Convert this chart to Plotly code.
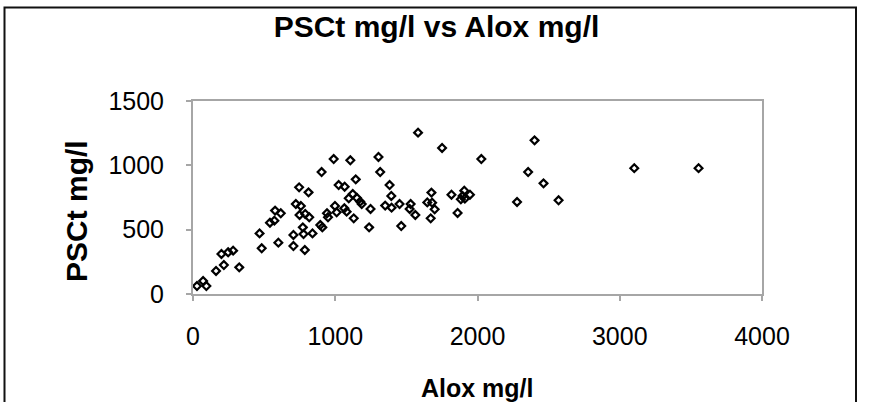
import plotly.graph_objects as go

# Data (Alox mg/l vs PSCt mg/l)
alox = [28, 71, 94, 162, 217, 200, 247, 282, 325, 468, 483, 541, 572, 577, 617, 600,
        706, 706, 723, 746, 758, 749, 772, 789, 817, 812, 777, 786, 840, 895, 909, 904,
        942, 949, 989, 998, 1010, 1024, 1066, 1064, 1080, 1095, 1106, 1123, 1130, 1144,
        1153, 1175, 1186, 1248, 1238, 1304, 1316, 1382, 1394, 1351, 1396, 1452, 1464,
        1582, 1751, 2027, 2401, 2356, 2464, 2570, 2278, 1530, 1523, 1563, 1647, 1676,
        1681, 1699, 1671, 1817, 1860, 1907, 1883, 1911, 1947, 1895, 3102, 3554]
psct = [62, 101, 62, 179, 225, 311, 324, 337, 207, 471, 355, 554, 570, 648, 627, 399,
        373, 459, 699, 829, 684, 614, 518, 622, 596, 790, 466, 342, 471, 536, 518, 948,
        627, 596, 1049, 684, 635, 847, 834, 666, 640, 744, 1039, 777, 588, 891,
        746, 718, 699, 661, 518, 1065, 948, 847, 762, 687, 671, 699, 528,
        1254, 1135, 1049, 1194, 948, 860, 728, 715, 699, 661, 614, 712, 788,
        710, 658, 588, 772, 630, 803, 736, 741, 772, 762, 978, 978]

x_ticks = [0, 1000, 2000, 3000, 4000]
y_ticks = [0, 500, 1000, 1500]

FONT = "Liberation Sans, Arial, sans-serif"

fig = go.Figure()
fig.add_trace(go.Scatter(
    x=alox, y=psct, mode="markers",
    marker=dict(symbol="diamond-open", size=6, color="black", line=dict(width=2.2, color="black")),
    showlegend=False,
))

ML, MR, MT, MB = 193, 111, 101, 108
W, H = 873, 402
PW, PH = W - ML - MR, H - MT - MB

def px2paper_x(px):
    return (px - ML) / PW

def px2paper_y(py):
    return (H - MB - py) / PH

axis_common = dict(
    showgrid=False, zeroline=False, showline=True, mirror=True,
    linecolor="#a6a6a6", linewidth=2, ticks="outside", ticklen=5,
    tickcolor="#a6a6a6", tickwidth=1.5,
    tickfont=dict(family=FONT, size=25, color="black"),
)

fig.update_layout(
    width=W, height=H,
    margin=dict(l=ML, r=MR, t=MT, b=MB),
    paper_bgcolor="white", plot_bgcolor="white",
    title=dict(text="<b>PSCt mg/l vs Alox mg/l</b>", x=0.5, xanchor="center",
               y=1 - 26 / H, yanchor="middle", yref="container",
               font=dict(family=FONT, size=30, color="black")),
    xaxis=dict(range=[0, 4000], tickvals=x_ticks, ticktext=[str(v) for v in x_ticks],
               ticklabelstandoff=14, **axis_common),
    yaxis=dict(range=[0, 1500], tickvals=y_ticks, ticktext=[str(v) for v in y_ticks],
               ticklabelstandoff=17, **axis_common),
    annotations=[
        dict(text="<b>Alox mg/l</b>", xref="paper", yref="paper",
             x=px2paper_x(477), y=px2paper_y(388), xanchor="center", yanchor="middle",
             showarrow=False, font=dict(family=FONT, size=25, color="black")),
        dict(text="<b>PSCt mg/l</b>", xref="paper", yref="paper",
             x=px2paper_x(76), y=px2paper_y(211), xanchor="center", yanchor="middle",
             textangle=-90, showarrow=False, font=dict(family=FONT, size=30, color="black")),
    ],
    shapes=[
        dict(type="rect", xref="paper", yref="paper",
             x0=px2paper_x(4.5), x1=px2paper_x(856), y0=px2paper_y(420), y1=px2paper_y(7.5),
             line=dict(color="#111111", width=2), layer="below"),
    ],
)

fig.write_html("out.html")
